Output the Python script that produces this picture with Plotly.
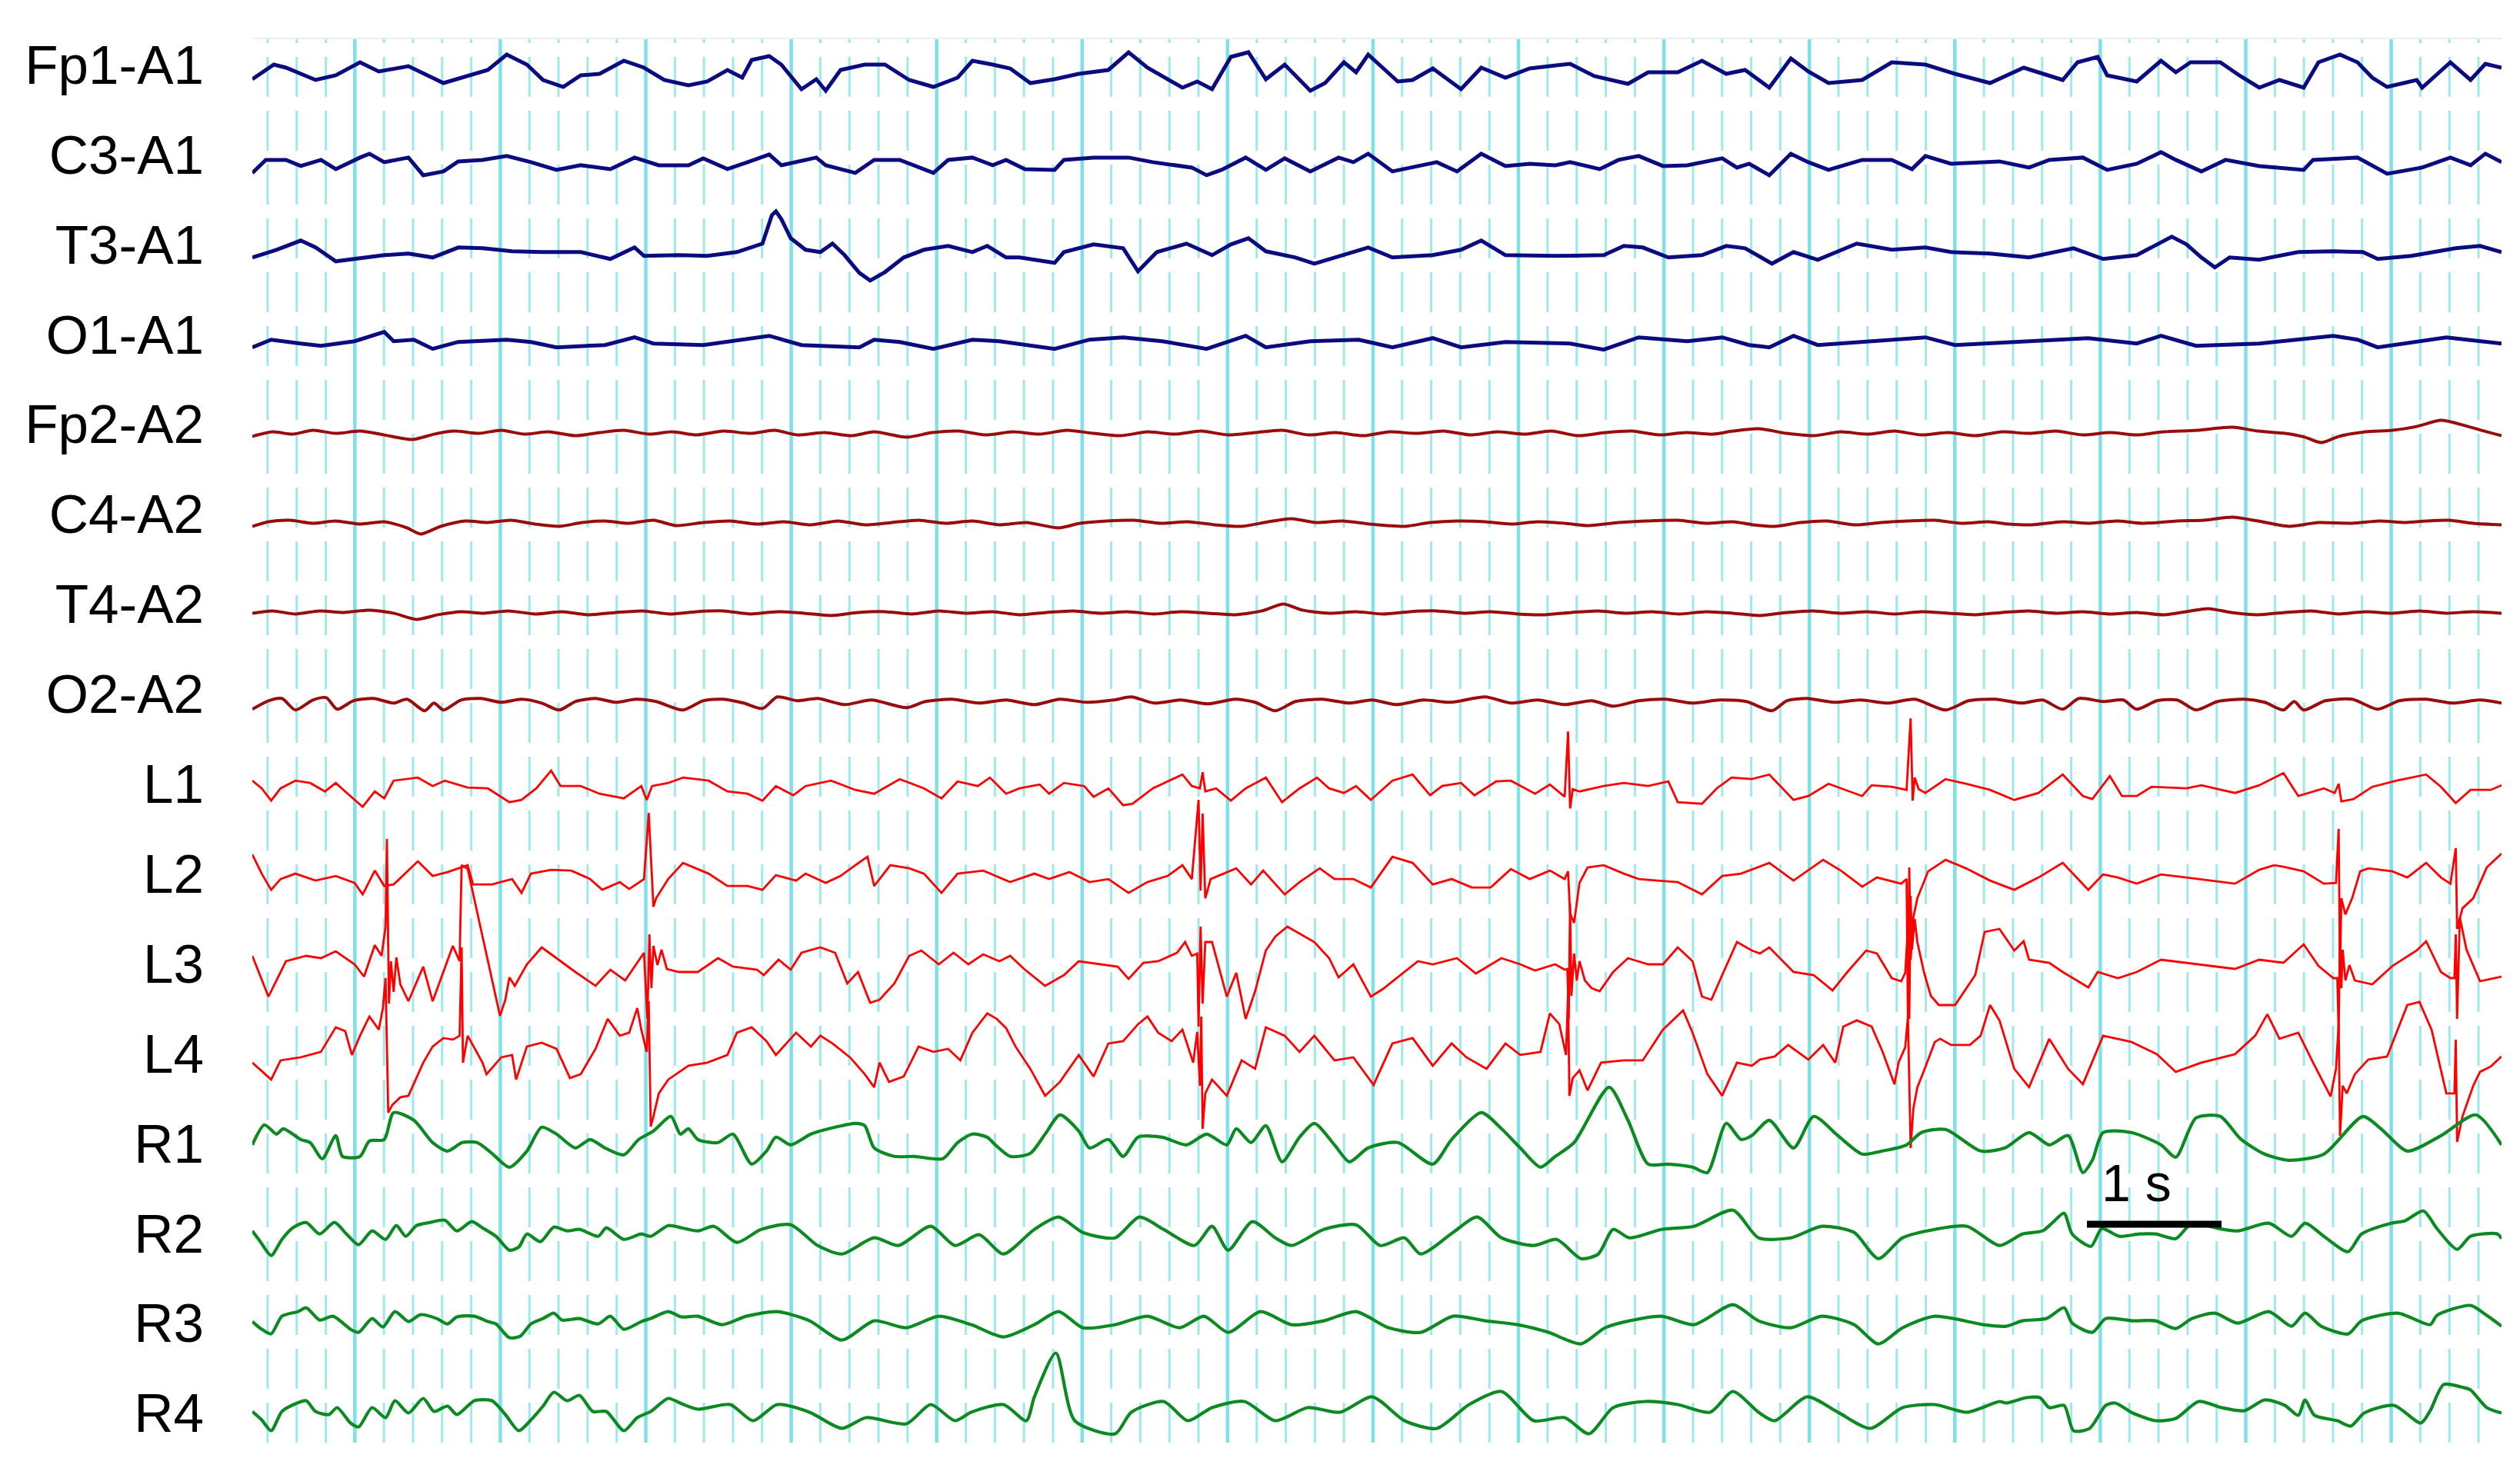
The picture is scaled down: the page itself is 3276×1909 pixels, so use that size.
import plotly.graph_objects as go

# channel names, top to bottom
names = ["Fp1-A1", "C3-A1", "T3-A1", "O1-A1", "Fp2-A2", "C4-A2", "T4-A2", "O2-A2",
         "L1", "L2", "L3", "L4", "R1", "R2", "R3", "R4"]

# traces: (time s, amplitude a.u.)
fp1_a1 = [(0.00,-7),(0.16,12),(0.25,8),(0.36,0),(0.47,-8),(0.62,-2),(0.80,15),(0.94,3),(1.16,10),(1.42,-12),(1.60,-3),(1.75,5),(1.89,25),(2.04,12),(2.16,-8),(2.31,-17),(2.44,-2),(2.58,0),(2.76,17),(2.91,8),(3.06,-8),(3.24,-15),(3.38,-10),(3.53,5),(3.64,-5),(3.71,18),(3.84,23),(3.93,12),(4.08,-20),(4.19,-7),(4.26,-22),(4.37,5),(4.55,12),(4.70,12),(4.88,-8),(5.06,-17),(5.24,-5),(5.35,17),(5.50,12),(5.63,7),(5.78,-12),(5.96,-7),(6.14,0),(6.36,5),(6.51,28),(6.65,8),(6.91,-18),(7.02,-10),(7.13,-20),(7.27,22),(7.40,28),(7.53,-7),(7.67,12),(7.86,-22),(7.97,-12),(8.11,15),(8.20,2),(8.29,25),(8.51,-10),(8.62,-8),(8.77,7),(8.98,-20),(9.13,8),(9.31,-5),(9.49,7),(9.79,13),(9.97,-3),(10.22,-13),(10.37,2),(10.59,2),(10.77,17),(10.95,0),(11.09,5),(11.27,-18),(11.43,20),(11.56,3),(11.71,-12),(11.96,-8),(12.18,15),(12.43,12),(12.65,0),(12.91,-12),(13.16,8),(13.45,-8),(13.56,15),(13.71,22),(13.78,-2),(14.00,-10),(14.18,17),(14.29,2),(14.40,15),(14.62,15),(14.77,-3),(14.91,-18),(15.06,-8),(15.24,-18),(15.35,15),(15.51,25),(15.64,15),(15.75,-5),(15.86,-17),(16.08,-8),(16.12,-18),(16.33,15),(16.48,-8),(16.59,13),(16.71,8)]
c3_a1 = [(0.00,-12),(0.10,5),(0.25,5),(0.36,-3),(0.51,5),(0.62,-7),(0.80,8),(0.87,13),(0.98,2),(1.16,8),(1.27,-15),(1.42,-10),(1.53,3),(1.71,5),(1.89,10),(2.07,2),(2.26,-8),(2.44,-2),(2.66,-7),(2.84,8),(3.02,-2),(3.24,-2),(3.35,7),(3.53,-7),(3.68,2),(3.84,12),(3.93,-2),(4.04,2),(4.19,8),(4.26,-2),(4.48,-12),(4.62,5),(4.81,5),(5.06,-12),(5.17,5),(5.35,8),(5.50,-2),(5.60,5),(5.74,-7),(5.96,-8),(6.03,5),(6.25,8),(6.51,8),(6.69,2),(6.87,-2),(6.98,-5),(7.09,-15),(7.20,-8),(7.38,8),(7.53,-8),(7.67,7),(7.86,-10),(8.07,8),(8.18,2),(8.29,13),(8.47,-10),(8.69,-2),(8.80,2),(8.95,-10),(9.13,13),(9.31,-3),(9.49,0),(9.68,-2),(9.79,2),(10.01,-7),(10.15,5),(10.30,10),(10.48,-3),(10.66,-2),(10.92,7),(11.03,-5),(11.12,0),(11.27,-15),(11.43,13),(11.56,2),(11.71,-8),(11.96,5),(12.18,5),(12.33,-7),(12.43,10),(12.62,0),(12.98,3),(13.20,-5),(13.35,5),(13.60,8),(13.78,-8),(14.00,0),(14.18,15),(14.29,5),(14.48,-10),(14.66,5),(14.91,-3),(15.24,-8),(15.31,5),(15.64,8),(15.86,-13),(16.12,-5),(16.33,8),(16.48,-2),(16.59,13),(16.71,2)]
t3_a1 = [(0.00,-5),(0.18,5),(0.36,17),(0.47,8),(0.62,-10),(0.76,-7),(0.98,-2),(1.16,0),(1.34,-5),(1.53,8),(1.71,7),(1.93,3),(2.15,2),(2.44,2),(2.66,-7),(2.84,8),(2.91,-3),(3.17,-2),(3.38,-3),(3.60,2),(3.79,13),(3.86,50),(3.89,55),(3.93,45),(4.00,20),(4.11,5),(4.22,2),(4.31,13),(4.40,-2),(4.51,-25),(4.59,-35),(4.70,-24),(4.84,-5),(4.99,5),(5.17,10),(5.35,2),(5.46,10),(5.60,-5),(5.70,-5),(5.96,-12),(6.03,2),(6.25,12),(6.47,7),(6.58,-23),(6.72,2),(6.94,13),(7.13,-2),(7.27,12),(7.40,20),(7.53,3),(7.75,-5),(7.89,-13),(8.11,-2),(8.29,8),(8.47,-5),(8.77,-2),(8.98,5),(9.13,17),(9.31,-2),(9.68,-3),(10.04,-2),(10.19,10),(10.33,8),(10.52,-5),(10.77,-2),(10.95,10),(11.09,7),(11.29,-13),(11.45,2),(11.63,-8),(11.92,13),(12.18,5),(12.43,8),(12.62,2),(12.91,0),(13.20,-5),(13.53,7),(13.75,-7),(14.00,-2),(14.15,12),(14.26,22),(14.37,12),(14.48,-5),(14.58,-18),(14.69,-5),(14.91,-8),(15.20,2),(15.46,3),(15.68,2),(15.79,-7),(16.04,-3),(16.37,7),(16.55,10),(16.71,2)]
o1_a1 = [(0.00,-5),(0.14,5),(0.36,0),(0.51,-3),(0.76,3),(0.98,15),(1.05,3),(1.20,5),(1.34,-7),(1.53,2),(1.89,5),(2.07,2),(2.26,-5),(2.62,-2),(2.84,8),(2.98,0),(3.35,-2),(3.53,2),(3.84,10),(4.08,-2),(4.51,-5),(4.62,5),(4.81,2),(5.06,-7),(5.35,5),(5.55,3),(5.74,-2),(5.96,-7),(6.22,5),(6.47,8),(6.76,3),(7.09,-7),(7.38,10),(7.53,-5),(7.86,3),(8.22,5),(8.47,-5),(8.77,7),(8.98,-5),(9.31,2),(9.79,0),(10.04,-8),(10.30,8),(10.66,3),(10.92,8),(11.12,-2),(11.27,-5),(11.45,10),(11.63,-2),(12.03,3),(12.43,8),(12.65,-2),(13.20,3),(13.64,7),(14.00,0),(14.18,10),(14.44,-3),(14.91,0),(15.46,10),(15.64,5),(15.79,-5),(16.30,8),(16.71,0)]
fp2_a2 = [(0.00,-4),(0.15,2),(0.30,-1),(0.45,4),(0.62,0),(0.80,3),(0.98,-2),(1.19,-8),(1.35,-1),(1.50,3),(1.68,0),(1.85,4),(2.02,-1),(2.20,2),(2.40,-3),(2.58,1),(2.76,4),(2.95,-1),(3.12,2),(3.30,-2),(3.50,3),(3.70,0),(3.88,4),(4.05,-2),(4.25,1),(4.45,-3),(4.62,2),(4.86,-5),(5.05,1),(5.25,3),(5.45,-2),(5.65,2),(5.85,-1),(6.05,4),(6.25,0),(6.45,-3),(6.65,2),(6.85,-1),(7.05,3),(7.25,-2),(7.45,1),(7.65,4),(7.85,-2),(8.05,1),(8.25,-3),(8.45,2),(8.65,0),(8.85,3),(9.05,-2),(9.25,2),(9.45,-1),(9.65,3),(9.85,-3),(10.05,1),(10.25,3),(10.45,-2),(10.65,1),(10.85,-1),(11.00,3),(11.19,6),(11.40,0),(11.60,-3),(11.80,2),(12.00,-1),(12.20,3),(12.40,-2),(12.60,1),(12.80,-3),(13.00,2),(13.20,0),(13.40,3),(13.60,-2),(13.80,1),(14.00,-2),(14.20,2),(14.45,4),(14.71,8),(14.90,3),(15.10,0),(15.25,-5),(15.37,-12),(15.50,-4),(15.70,2),(15.90,4),(16.08,9),(16.26,17),(16.40,12),(16.56,4),(16.71,-3)]
c4_a2 = [(0.00,-4),(0.12,2),(0.28,4),(0.45,0),(0.62,3),(0.80,-1),(0.98,2),(1.15,-6),(1.25,-14),(1.40,-4),(1.58,3),(1.75,1),(1.92,4),(2.10,-1),(2.28,-4),(2.45,1),(2.62,3),(2.80,0),(2.98,4),(3.15,-3),(3.35,1),(3.55,3),(3.75,-1),(3.95,2),(4.15,-2),(4.35,3),(4.55,-2),(4.75,1),(4.95,4),(5.15,0),(5.35,3),(5.55,-2),(5.75,1),(5.99,-6),(6.15,0),(6.35,3),(6.55,4),(6.75,0),(6.95,2),(7.15,-2),(7.35,-4),(7.55,2),(7.72,6),(7.90,1),(8.10,3),(8.30,-1),(8.56,-4),(8.75,1),(8.95,3),(9.16,2),(9.35,-1),(9.55,2),(9.75,0),(9.93,-3),(10.15,1),(10.35,3),(10.59,4),(10.80,0),(11.00,2),(11.15,-2),(11.31,-4),(11.50,1),(11.70,3),(11.90,-2),(12.10,1),(12.30,3),(12.50,4),(12.70,0),(12.90,2),(13.05,-1),(13.22,-2),(13.45,2),(13.65,0),(13.85,3),(14.05,0),(14.30,3),(14.50,4),(14.71,8),(14.90,3),(15.13,-4),(15.35,1),(15.60,0),(15.80,3),(16.00,1),(16.15,3),(16.32,4),(16.50,0),(16.71,-2)]
t4_a2 = [(0.00,0),(0.15,3),(0.32,-1),(0.50,3),(0.68,1),(0.86,4),(1.05,0),(1.22,-8),(1.38,-2),(1.55,2),(1.72,0),(1.90,3),(2.10,-1),(2.30,2),(2.50,-2),(2.70,1),(2.90,3),(3.10,-1),(3.30,2),(3.50,3),(3.70,-1),(3.90,2),(4.10,0),(4.30,-3),(4.50,1),(4.70,2),(4.90,-1),(5.10,3),(5.30,0),(5.50,2),(5.70,-2),(5.90,1),(6.10,3),(6.30,0),(6.50,2),(6.70,-1),(6.90,2),(7.10,0),(7.30,-2),(7.50,3),(7.66,12),(7.80,4),(8.00,0),(8.20,2),(8.40,-1),(8.60,2),(8.80,3),(9.00,0),(9.20,2),(9.40,-1),(9.60,-2),(9.80,1),(10.00,3),(10.20,0),(10.40,2),(10.60,-1),(10.80,2),(11.00,0),(11.20,-3),(11.40,1),(11.60,3),(11.80,0),(12.00,2),(12.20,-1),(12.40,2),(12.60,0),(12.80,-2),(13.00,1),(13.20,3),(13.40,0),(13.60,2),(13.80,-1),(14.00,1),(14.20,-2),(14.40,3),(14.53,6),(14.70,1),(14.90,-2),(15.10,1),(15.30,3),(15.50,-1),(15.70,2),(15.90,0),(16.10,3),(16.30,0),(16.50,2),(16.71,0)]
o2_a2 = [(0.00,-8),(0.12,3),(0.22,6),(0.32,-9),(0.45,4),(0.55,7),(0.63,-8),(0.75,3),(0.90,6),(1.05,0),(1.15,5),(1.28,-10),(1.35,0),(1.42,-9),(1.55,4),(1.70,6),(1.85,1),(2.00,5),(2.15,0),(2.28,-9),(2.40,2),(2.55,6),(2.70,1),(2.85,5),(3.00,2),(3.20,-9),(3.35,3),(3.50,5),(3.65,0),(3.79,-7),(3.90,8),(4.05,3),(4.20,6),(4.40,-2),(4.60,4),(4.86,-6),(5.00,2),(5.20,5),(5.40,0),(5.60,4),(5.81,-2),(6.00,5),(6.20,1),(6.40,4),(6.53,8),(6.70,0),(6.90,4),(7.10,-1),(7.30,5),(7.45,1),(7.60,-10),(7.75,2),(7.95,5),(8.15,0),(8.32,4),(8.50,-2),(8.70,4),(8.90,1),(9.16,8),(9.35,0),(9.55,4),(9.75,-2),(9.95,3),(10.11,-4),(10.30,3),(10.50,5),(10.70,0),(10.90,4),(11.10,2),(11.29,-10),(11.40,3),(11.55,6),(11.75,1),(11.95,4),(12.15,0),(12.35,5),(12.58,-9),(12.75,3),(12.95,5),(13.15,0),(13.30,4),(13.45,-8),(13.57,6),(13.75,2),(13.90,4),(14.00,-8),(14.15,3),(14.30,4),(14.44,-9),(14.60,2),(14.80,5),(14.95,1),(15.09,-9),(15.17,2),(15.24,-9),(15.40,3),(15.60,5),(15.79,-8),(15.95,3),(16.15,5),(16.35,0),(16.55,4),(16.71,0)]
l1 = [(0.00,16),(0.07,6),(0.14,-10),(0.21,6),(0.32,16),(0.43,13),(0.54,2),(0.62,13),(0.69,2),(0.82,-18),(0.91,2),(0.98,-7),(1.05,16),(1.23,20),(1.34,9),(1.43,16),(1.60,7),(1.75,6),(1.91,-12),(2.00,-9),(2.11,6),(2.22,29),(2.29,9),(2.44,9),(2.58,-1),(2.76,-7),(2.89,9),(2.93,-9),(2.97,9),(3.09,13),(3.20,20),(3.39,16),(3.53,2),(3.68,-1),(3.79,-10),(3.89,9),(4.02,-3),(4.11,9),(4.30,16),(4.48,4),(4.62,-1),(4.81,18),(4.99,6),(5.12,-7),(5.24,15),(5.39,9),(5.48,20),(5.60,-1),(5.70,6),(5.85,11),(5.92,-1),(6.03,13),(6.18,9),(6.25,-5),(6.36,6),(6.47,-16),(6.54,-14),(6.69,6),(6.91,24),(6.98,9),(7.04,6),(7.06,27),(7.08,2),(7.16,6),(7.27,-10),(7.38,6),(7.53,20),(7.65,-12),(7.78,6),(7.91,20),(8.00,6),(8.11,0),(8.20,9),(8.31,-9),(8.47,16),(8.62,24),(8.75,-3),(8.84,9),(8.98,13),(9.08,-3),(9.24,15),(9.35,16),(9.53,-1),(9.64,11),(9.75,-5),(9.775,80),(9.79,-20),(9.81,5),(9.86,2),(10.04,9),(10.19,13),(10.37,9),(10.52,15),(10.59,-12),(10.77,-14),(10.88,6),(10.99,20),(11.14,18),(11.27,24),(11.45,-9),(11.56,-4),(11.71,12),(11.96,-4),(12.03,10),(12.18,8),(12.29,4),(12.32,97),(12.335,-10),(12.35,20),(12.38,5),(12.43,0),(12.58,18),(12.73,12),(12.91,4),(13.09,-9),(13.27,0),(13.45,24),(13.60,-4),(13.67,-8),(13.80,22),(13.89,-4),(14.00,-4),(14.11,8),(14.37,6),(14.48,10),(14.73,0),(14.91,10),(15.09,26),(15.20,-4),(15.39,6),(15.47,0),(15.50,12),(15.52,-11),(15.61,-8),(15.75,8),(15.93,16),(16.15,24),(16.26,8),(16.37,-13),(16.48,4),(16.63,4),(16.71,10)]
l2 = [(0.00,37),(0.07,12),(0.14,-9),(0.21,5),(0.32,12),(0.47,3),(0.62,9),(0.76,0),(0.82,-15),(0.91,16),(0.98,-4),(1.05,-2),(1.23,28),(1.34,9),(1.45,14),(1.60,23),(1.64,-2),(1.78,-2),(1.93,5),(2.00,-13),(2.07,12),(2.22,17),(2.37,16),(2.51,5),(2.60,-9),(2.73,1),(2.80,-8),(2.91,5),(2.945,91),(2.96,40),(2.98,-31),(3.00,-20),(3.09,5),(3.20,26),(3.39,12),(3.53,-4),(3.68,-4),(3.79,-9),(3.89,10),(4.04,3),(4.11,12),(4.26,0),(4.37,9),(4.48,23),(4.57,34),(4.62,-4),(4.74,23),(4.88,19),(4.99,12),(5.12,-13),(5.24,12),(5.43,16),(5.63,1),(5.81,12),(5.92,5),(6.07,14),(6.22,1),(6.36,5),(6.51,-13),(6.65,1),(6.80,9),(6.91,23),(6.98,5),(7.03,108),(7.045,-10),(7.06,90),(7.08,-20),(7.12,5),(7.31,19),(7.42,-2),(7.51,16),(7.67,-15),(7.78,1),(7.93,19),(8.04,5),(8.18,5),(8.31,-6),(8.47,34),(8.62,26),(8.77,-2),(8.91,5),(9.06,-6),(9.20,-6),(9.35,18),(9.49,5),(9.64,16),(9.75,5),(9.775,15),(9.79,-40),(9.82,-52),(9.86,0),(9.92,20),(10.04,23),(10.19,12),(10.30,5),(10.44,3),(10.59,1),(10.77,-15),(10.92,9),(11.06,12),(11.27,26),(11.45,3),(11.67,30),(11.81,15),(11.96,-5),(12.07,7),(12.25,-1),(12.29,5),(12.30,-175),(12.31,20),(12.32,-100),(12.34,-45),(12.37,-20),(12.45,15),(12.58,30),(12.73,19),(12.91,3),(13.09,-9),(13.27,7),(13.45,26),(13.64,-9),(13.75,11),(13.86,7),(14.00,-1),(14.18,11),(14.37,7),(14.55,3),(14.73,-1),(14.91,17),(15.02,23),(15.09,21),(15.24,15),(15.39,-1),(15.48,0),(15.50,70),(15.51,-120),(15.52,-20),(15.55,-41),(15.60,-20),(15.66,15),(15.72,19),(15.90,15),(16.01,7),(16.15,26),(16.26,7),(16.33,-1),(16.37,45),(16.38,-60),(16.42,-33),(16.50,-20),(16.60,20),(16.71,38)]
l3 = [(0.00,22),(0.12,-31),(0.25,15),(0.40,22),(0.51,19),(0.62,28),(0.76,11),(0.83,-5),(0.91,36),(0.96,22),(0.99,60),(1.00,174),(1.015,-40),(1.03,15),(1.05,-25),(1.07,20),(1.10,-15),(1.16,-37),(1.27,8),(1.34,-37),(1.49,35),(1.54,15),(1.555,140),(1.60,135),(1.84,-56),(1.88,-35),(1.91,-6),(1.95,-17),(2.04,11),(2.15,33),(2.26,19),(2.40,1),(2.55,-17),(2.66,4),(2.77,-10),(2.91,26),(2.935,-60),(2.95,50),(2.965,-20),(2.98,35),(3.01,10),(3.04,30),(3.08,5),(3.17,1),(3.31,1),(3.46,19),(3.57,8),(3.75,4),(3.80,-3),(3.91,17),(4.00,4),(4.08,26),(4.22,33),(4.33,26),(4.42,-14),(4.50,1),(4.59,-39),(4.66,-35),(4.77,-14),(4.88,22),(4.97,29),(5.10,11),(5.21,26),(5.32,11),(5.43,24),(5.55,15),(5.63,22),(5.74,4),(5.89,-17),(6.03,-3),(6.14,15),(6.29,11),(6.43,8),(6.51,-8),(6.62,13),(6.73,15),(6.87,26),(6.93,40),(6.98,22),(7.02,25),(7.03,-70),(7.045,60),(7.06,-40),(7.08,40),(7.13,40),(7.24,-31),(7.31,0),(7.38,-60),(7.45,-24),(7.53,29),(7.60,47),(7.69,60),(7.78,51),(7.89,40),(8.00,19),(8.07,-6),(8.18,11),(8.31,-31),(8.40,-21),(8.51,-6),(8.66,15),(8.77,11),(8.95,19),(9.09,-1),(9.28,19),(9.42,11),(9.53,3),(9.68,11),(9.75,4),(9.77,5),(9.78,-60),(9.79,90),(9.80,-30),(9.82,25),(9.84,-10),(9.86,15),(9.90,-10),(9.95,-20),(10.01,-24),(10.11,1),(10.22,19),(10.37,11),(10.48,11),(10.59,33),(10.70,15),(10.77,-31),(10.84,-35),(10.92,-3),(11.03,40),(11.14,29),(11.20,25),(11.27,33),(11.45,1),(11.60,-3),(11.74,-23),(11.85,1),(11.99,29),(12.07,25),(12.18,-7),(12.25,-11),(12.28,0),(12.30,60),(12.31,-60),(12.32,100),(12.33,30),(12.35,70),(12.37,40),(12.42,0),(12.47,-30),(12.53,-42),(12.65,-42),(12.80,-3),(12.87,53),(12.98,57),(13.09,29),(13.16,41),(13.20,17),(13.35,13),(13.45,1),(13.64,-19),(13.71,1),(13.86,-7),(14.00,1),(14.18,17),(14.37,13),(14.55,9),(14.73,5),(14.91,17),(15.09,13),(15.24,37),(15.35,9),(15.46,-7),(15.49,-7),(15.50,-80),(15.51,60),(15.52,-20),(15.53,30),(15.55,-10),(15.58,10),(15.62,-10),(15.75,-15),(15.90,9),(16.08,29),(16.15,41),(16.26,1),(16.33,-7),(16.36,-7),(16.37,50),(16.38,-60),(16.40,72),(16.45,30),(16.55,-11),(16.71,-5)]
l4 = [(0.00,0),(0.05,-8),(0.14,-22),(0.21,3),(0.36,7),(0.51,14),(0.62,46),(0.69,41),(0.74,10),(0.80,35),(0.87,60),(0.94,43),(0.97,71),(0.99,110),(1.01,-65),(1.04,-55),(1.10,-45),(1.16,-43),(1.27,0),(1.34,21),(1.42,32),(1.49,30),(1.54,35),(1.555,150),(1.565,0),(1.60,35),(1.71,0),(1.74,-15),(1.85,7),(1.93,10),(1.96,-22),(2.04,21),(2.15,26),(2.26,18),(2.36,-20),(2.44,-15),(2.55,18),(2.64,57),(2.73,35),(2.80,39),(2.86,71),(2.89,43),(2.93,14),(2.945,80),(2.96,-83),(2.98,-70),(3.02,-40),(3.09,-22),(3.24,-4),(3.38,0),(3.53,10),(3.60,39),(3.71,46),(3.82,28),(3.89,10),(4.04,39),(4.15,21),(4.22,35),(4.31,25),(4.44,7),(4.55,-15),(4.62,-32),(4.66,0),(4.73,-25),(4.84,-18),(4.95,21),(5.06,14),(5.17,18),(5.26,3),(5.35,39),(5.46,64),(5.53,57),(5.60,45),(5.67,21),(5.78,-8),(5.89,-43),(6.00,-25),(6.14,10),(6.25,-18),(6.36,25),(6.47,28),(6.58,50),(6.65,60),(6.73,39),(6.83,28),(6.91,43),(6.99,0),(7.02,40),(7.04,-30),(7.05,60),(7.06,-86),(7.08,-40),(7.13,-22),(7.24,-43),(7.35,3),(7.45,-8),(7.53,46),(7.67,35),(7.78,14),(7.89,35),(8.04,3),(8.18,7),(8.33,-29),(8.47,25),(8.62,32),(8.77,-4),(8.91,25),(9.02,7),(9.17,-8),(9.31,25),(9.42,10),(9.57,14),(9.64,64),(9.71,50),(9.76,10),(9.775,90),(9.785,-43),(9.81,-20),(9.86,-10),(9.92,-36),(10.02,0),(10.19,3),(10.33,3),(10.48,43),(10.63,68),(10.70,39),(10.81,-15),(10.92,-43),(11.03,0),(11.14,-4),(11.20,4),(11.31,8),(11.41,23),(11.56,4),(11.67,23),(11.76,0),(11.82,47),(11.92,55),(12.03,47),(12.11,15),(12.20,-28),(12.23,0),(12.28,20),(12.30,60),(12.32,-111),(12.34,-60),(12.37,-32),(12.42,-10),(12.50,27),(12.54,31),(12.62,23),(12.76,23),(12.84,35),(12.91,75),(12.98,55),(13.09,-8),(13.20,-32),(13.35,31),(13.49,-8),(13.60,-28),(13.75,35),(13.96,27),(14.15,11),(14.29,-12),(14.48,0),(14.73,11),(14.88,35),(14.97,63),(15.06,31),(15.20,39),(15.31,0),(15.44,-44),(15.48,-8),(15.50,50),(15.51,-95),(15.53,-30),(15.56,-40),(15.62,-15),(15.72,4),(15.86,8),(16.01,75),(16.10,79),(16.19,43),(16.30,-40),(16.36,-40),(16.37,30),(16.38,-103),(16.42,-70),(16.50,-30),(16.55,-12),(16.63,-5),(16.71,8)]
r1 = [(0.00,10),(0.09,36),(0.18,24),(0.23,31),(0.36,17),(0.43,13),(0.52,-8),(0.62,22),(0.67,-5),(0.80,-5),(0.87,15),(0.98,17),(1.05,52),(1.20,42),(1.34,13),(1.45,2),(1.56,13),(1.67,13),(1.78,-1),(1.91,-19),(2.04,2),(2.15,33),(2.26,24),(2.40,6),(2.51,17),(2.62,6),(2.76,-3),(2.87,17),(2.98,28),(3.11,47),(3.18,24),(3.24,31),(3.31,17),(3.46,13),(3.57,24),(3.71,-15),(3.82,2),(3.89,20),(4.00,10),(4.15,24),(4.33,33),(4.48,38),(4.55,35),(4.62,6),(4.77,-5),(4.92,-5),(5.13,-8),(5.24,13),(5.35,24),(5.46,20),(5.52,10),(5.63,-5),(5.78,-1),(5.89,24),(6.00,49),(6.14,28),(6.22,6),(6.36,17),(6.47,-5),(6.58,20),(6.76,20),(6.94,10),(7.09,24),(7.24,10),(7.31,31),(7.42,13),(7.53,35),(7.65,-12),(7.78,20),(7.89,38),(8.04,10),(8.15,-12),(8.29,6),(8.51,13),(8.77,-15),(8.91,17),(9.13,52),(9.28,31),(9.42,6),(9.57,-19),(9.68,-5),(9.82,13),(10.08,85),(10.22,42),(10.37,-15),(10.52,-15),(10.70,-19),(10.81,-26),(10.95,38),(11.06,17),(11.14,22),(11.27,42),(11.45,6),(11.60,47),(11.78,22),(11.96,-2),(12.11,2),(12.29,10),(12.40,26),(12.58,30),(12.84,2),(13.02,6),(13.20,26),(13.35,10),(13.49,22),(13.60,-26),(13.67,-10),(13.75,26),(13.96,26),(14.18,10),(14.29,-6),(14.44,45),(14.62,47),(14.77,18),(14.95,-2),(15.13,-10),(15.39,-2),(15.68,47),(15.82,30),(16.01,2),(16.26,22),(16.52,49),(16.71,10)]
r2 = [(0.00,15),(0.06,1),(0.14,-17),(0.22,4),(0.30,19),(0.40,26),(0.50,11),(0.61,26),(0.70,11),(0.79,-3),(0.89,15),(0.99,4),(1.07,22),(1.14,8),(1.22,22),(1.32,26),(1.43,29),(1.52,15),(1.63,27),(1.71,19),(1.81,8),(1.91,-10),(1.98,-6),(2.04,11),(2.14,1),(2.24,20),(2.34,15),(2.43,17),(2.57,8),(2.63,19),(2.76,4),(2.89,11),(2.96,8),(3.09,22),(3.19,19),(3.31,15),(3.43,21),(3.60,0),(3.78,17),(4.00,23),(4.20,-4),(4.38,-15),(4.62,6),(4.80,-4),(5.04,21),(5.22,-4),(5.40,10),(5.58,-15),(5.81,17),(5.99,33),(6.17,13),(6.41,6),(6.59,33),(6.77,17),(7.00,-4),(7.13,21),(7.25,-10),(7.43,27),(7.60,6),(7.72,-4),(7.96,17),(8.20,23),(8.38,-4),(8.56,6),(8.68,-15),(8.92,13),(9.10,33),(9.28,6),(9.52,-4),(9.69,4),(9.87,-21),(10.00,-15),(10.11,17),(10.23,6),(10.47,17),(10.71,21),(11.00,42),(11.19,6),(11.43,6),(11.66,21),(11.90,13),(12.08,-21),(12.26,6),(12.50,17),(12.74,21),(12.98,-4),(13.15,11),(13.30,15),(13.37,25),(13.46,38),(13.52,11),(13.66,-5),(13.74,18),(13.87,8),(14.02,11),(14.14,11),(14.29,5),(14.41,25),(14.61,18),(14.75,15),(14.98,25),(15.15,8),(15.25,25),(15.39,8),(15.57,-12),(15.67,11),(15.89,25),(15.99,28),(16.13,41),(16.23,18),(16.38,-9),(16.48,8),(16.68,11),(16.71,5)]
r3 = [(0.00,14),(0.07,4),(0.14,-2),(0.22,21),(0.34,27),(0.40,32),(0.50,16),(0.60,21),(0.73,4),(0.79,0),(0.89,18),(0.97,7),(1.06,27),(1.16,14),(1.25,23),(1.37,18),(1.45,11),(1.52,20),(1.65,21),(1.75,14),(1.81,11),(1.91,-7),(1.99,-5),(2.07,11),(2.16,18),(2.24,25),(2.30,16),(2.43,18),(2.57,11),(2.66,21),(2.76,4),(2.89,14),(2.96,18),(3.09,27),(3.19,20),(3.31,21),(3.49,10),(3.67,21),(3.90,27),(4.14,15),(4.38,-10),(4.62,15),(4.86,6),(5.10,21),(5.34,10),(5.58,-6),(5.81,10),(5.99,27),(6.17,6),(6.41,10),(6.65,21),(6.89,6),(7.07,21),(7.25,0),(7.49,27),(7.72,10),(7.96,15),(8.20,27),(8.44,6),(8.68,0),(8.92,21),(9.16,15),(9.40,10),(9.63,0),(9.87,-15),(10.05,6),(10.23,15),(10.47,21),(10.71,10),(11.00,36),(11.19,15),(11.43,6),(11.66,21),(11.90,10),(12.08,-15),(12.26,6),(12.50,21),(12.86,10),(13.03,8),(13.15,15),(13.33,18),(13.46,32),(13.52,12),(13.67,0),(13.77,18),(13.97,15),(14.14,15),(14.29,5),(14.41,18),(14.58,25),(14.75,12),(14.98,27),(15.15,8),(15.25,25),(15.37,8),(15.57,-2),(15.67,15),(15.94,25),(16.18,10),(16.23,22),(16.48,35),(16.60,22),(16.71,8)]
r4 = [(0.00,14),(0.07,3),(0.14,-11),(0.22,14),(0.32,24),(0.40,28),(0.47,14),(0.57,10),(0.63,19),(0.73,-1),(0.79,-6),(0.89,19),(0.99,6),(1.06,28),(1.16,12),(1.27,31),(1.35,14),(1.45,21),(1.52,10),(1.65,28),(1.78,28),(1.88,10),(1.98,-11),(2.07,3),(2.16,21),(2.24,39),(2.34,28),(2.43,35),(2.53,14),(2.63,14),(2.76,-11),(2.86,6),(2.96,14),(3.09,31),(3.19,24),(3.31,17),(3.55,23),(3.72,2),(3.90,23),(4.14,13),(4.38,-8),(4.56,6),(4.86,-2),(5.04,23),(5.22,2),(5.34,13),(5.58,23),(5.75,2),(5.81,33),(5.97,90),(6.11,2),(6.41,-15),(6.53,13),(6.77,27),(6.95,2),(7.13,19),(7.37,27),(7.60,2),(7.84,19),(8.08,13),(8.32,33),(8.56,2),(8.80,-8),(9.04,23),(9.28,40),(9.52,2),(9.75,6),(9.93,-15),(10.11,19),(10.35,27),(10.59,23),(10.83,13),(11.00,40),(11.19,13),(11.31,2),(11.55,33),(11.78,13),(12.02,-8),(12.26,19),(12.50,23),(12.74,13),(12.98,27),(13.03,25),(13.18,32),(13.28,32),(13.35,19),(13.46,22),(13.53,-11),(13.65,-8),(13.77,22),(13.84,25),(13.97,12),(14.14,2),(14.29,5),(14.46,27),(14.63,19),(14.80,15),(14.95,29),(15.10,22),(15.20,9),(15.25,29),(15.32,9),(15.49,2),(15.59,-5),(15.69,12),(15.91,22),(16.11,-1),(16.18,15),(16.28,49),(16.43,45),(16.48,42),(16.60,19),(16.71,12)]

channels = [fp1_a1, c3_a1, t3_a1, o1_a1, fp2_a2, c4_a2, t4_a2, o2_a2,
            l1, l2, l3, l4, r1, r2, r3, r4]

group_colors = ["#0b0b80"] * 4 + ["#980c0c"] * 4 + ["#ff0000"] * 4 + ["#0c8a22"] * 4
group_widths = [5.0] * 4 + [4.0] * 4 + [2.8] * 4 + [4.2] * 4
group_shapes = ["linear"] * 4 + ["spline"] * 4 + ["linear"] * 4 + ["spline"] * 4

spacing = 116.9          # vertical offset between channels
t_end = 16.71            # seconds shown
grid_t0 = 0.762          # first thick grid line (s)
grid_step = 1.0806       # thick grid spacing (s), five sub-divisions
scalebar_t0 = 13.63      # "1 s" calibration bar
scalebar_len = 1.0

fig = go.Figure()

for i, pts in enumerate(channels):
    line = dict(color=group_colors[i], width=group_widths[i], shape=group_shapes[i])
    if group_shapes[i] == "spline":
        line["smoothing"] = 0.7
    fig.add_trace(go.Scatter(
        x=[p[0] for p in pts],
        y=[p[1] - i * spacing for p in pts],
        mode="lines", line=line,
        showlegend=False, hoverinfo="skip"))

# grid: thick solid lines with dashed sub-divisions
shapes = []
j = -3
while True:
    t = grid_t0 + j * grid_step / 5
    if t > t_end:
        break
    if j % 5 == 0:
        shapes.append(dict(type="line", xref="x", yref="paper", x0=t, x1=t, y0=0, y1=1,
                           line=dict(color="#80e0e8", width=4.5), layer="below"))
    else:
        shapes.append(dict(type="line", xref="x", yref="paper", x0=t, x1=t, y0=0, y1=1,
                           line=dict(color="#9ee9ef", width=3, dash="52px,18px"), layer="below"))
    j += 1

# faint top border
shapes.append(dict(type="line", xref="paper", yref="paper", x0=0, x1=1, y0=1, y1=1,
                   line=dict(color="#eeeeee", width=2), layer="below"))

# calibration bar
shapes.append(dict(type="line", xref="x", yref="y", x0=scalebar_t0, x1=scalebar_t0 + scalebar_len,
                   y0=-1496, y1=-1496, line=dict(color="black", width=9)))
fig.add_annotation(x=14.00, y=-1442, xref="x", yref="y", text="1 s", showarrow=False,
                   font=dict(family="Liberation Sans, Arial, sans-serif", size=68, color="black"))

fig.update_layout(
    width=3276, height=1909,
    margin=dict(l=320, r=32, t=42, b=41),
    paper_bgcolor="white", plot_bgcolor="white",
    shapes=shapes,
    font=dict(family="Liberation Sans, Arial, sans-serif", color="black"),
)
fig.update_xaxes(range=[0, t_end], visible=False, showgrid=False, zeroline=False)
fig.update_yaxes(range=[-1780, 46], showgrid=False, zeroline=False, showline=False,
                 tickvals=[12 - i * 116.9 for i in range(len(names))], ticktext=names,
                 ticks="", ticklabelstandoff=62,
                 tickfont=dict(family="Liberation Sans, Arial, sans-serif", size=71, color="black"))

fig.write_html("out.html")
